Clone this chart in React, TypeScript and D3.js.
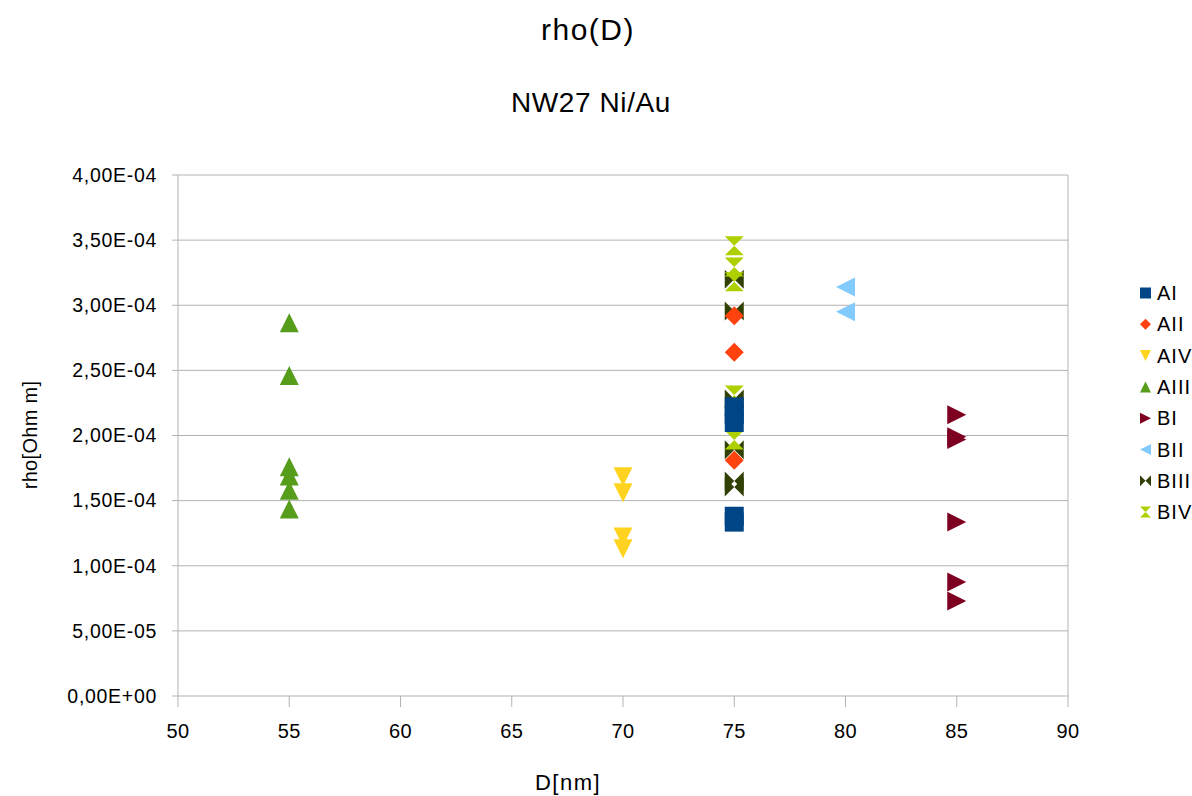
import React from "react";
import * as d3 from "d3";

// values (x = D[nm], y = rho[Ohm m])
const seriesNames = ["AI", "AII", "AIV", "AIII", "BI", "BII", "BIII", "BIV"];
const seriesColors = ["#004586", "#ff420e", "#ffd320", "#579d1c", "#7e0021", "#83caff", "#314004", "#aecf00"];
const seriesShapes = ["square", "diamond", "down", "up", "right", "left", "bowtie", "hourglass"];

const aI = [[75, 2.22e-4], [75, 2.16e-4], [75, 2.1e-4], [75, 1.38e-4], [75, 1.335e-4]];
const aII = [[75, 2.92e-4], [75, 2.64e-4], [75, 1.81e-4]];
const aIV = [[70, 1.684e-4], [70, 1.56e-4], [70, 1.22e-4], [70, 1.13e-4]];
const aIII = [[55, 2.865e-4], [55, 2.46e-4], [55, 1.76e-4], [55, 1.69e-4], [55, 1.58e-4], [55, 1.435e-4]];
const bI = [[85, 2.16e-4], [85, 1.99e-4], [85, 1.97e-4], [85, 1.335e-4], [85, 0.875e-4], [85, 0.73e-4]];
const bII = [[80, 3.14e-4], [80, 2.95e-4]];
const bIII = [[75, 3.2e-4], [75, 2.956e-4], [75, 2.28e-4], [75, 1.89e-4], [75, 1.65e-4], [75, 1.605e-4]];
const bIV = [[75, 3.457e-4], [75, 3.294e-4], [75, 3.18e-4], [75, 2.31e-4], [75, 1.965e-4]];

const seriesData = [aI, aII, aIV, aIII, bI, bII, bIII, bIV];
const drawOrder = [6, 7, 0, 1, 2, 3, 4, 5];

const xTicks = [50, 55, 60, 65, 70, 75, 80, 85, 90];
const yTicks = [0, 5e-5, 1e-4, 1.5e-4, 2e-4, 2.5e-4, 3e-4, 3.5e-4, 4e-4];

const W = 1192;
const H = 796;
const plot = { left: 178, right: 1068, top: 175, bottom: 696 };
const font = "'Liberation Sans', Arial, sans-serif";
const grid = "#b3b3b3";

const fmtSci = (v: number) => {
  const [m, e] = v.toExponential(2).split("e");
  const sign = e[0] === "-" ? "-" : "+";
  const digits = e.replace(/[+-]/, "").padStart(2, "0");
  return `${m.replace(".", ",")}E${sign}${digits}`;
};

const markerPath = (shape: string, s: number) => {
  const h = s / 2;
  switch (shape) {
    case "square":
      return `M${-h},${-h}H${h}V${h}H${-h}Z`;
    case "diamond":
      return `M0,${-h}L${h},0L0,${h}L${-h},0Z`;
    case "down":
      return `M${-h},${-h}H${h}L0,${h}Z`;
    case "up":
      return `M0,${-h}L${h},${h}H${-h}Z`;
    case "right":
      return `M${-h},${-h}L${h},0L${-h},${h}Z`;
    case "left":
      return `M${h},${-h}L${-h},0L${h},${h}Z`;
    case "bowtie":
      return `M${-h},${-h}L0,0L${-h},${h}Z M${h},${-h}L0,0L${h},${h}Z`;
    case "hourglass":
      return `M${-h},${-h}H${h}L0,0Z M${-h},${h}H${h}L0,0Z`;
    default:
      return "";
  }
};

export default function App() {
  const x = d3.scaleLinear().domain([50, 90]).range([plot.left, plot.right]);
  const y = d3.scaleLinear().domain([0, 4e-4]).range([plot.bottom, plot.top]);

  return (
    <svg width={W} height={H} style={{ position: "absolute", left: 0, top: 0, background: "#fff" }} fontFamily={font}>
      <rect width={W} height={H} fill="#fff" />
      <text x={588} y={40} textAnchor="middle" fontSize={30} letterSpacing={1.5} fill="#000">rho(D)</text>
      <text x={591} y={112} textAnchor="middle" fontSize={28} letterSpacing={0.6} fill="#000">NW27 Ni/Au</text>

      {/* grid + y axis */}
      {yTicks.map((t) => (
        <g key={`y${t}`}>
          <line x1={plot.left - 6} x2={plot.right} y1={y(t)} y2={y(t)} stroke={grid} strokeWidth={1} />
          <text x={157} y={y(t)} dy="0.35em" textAnchor="end" fontSize={19.5} letterSpacing={0.7} fill="#000">
            {fmtSci(t)}
          </text>
        </g>
      ))}
      <line x1={plot.left} x2={plot.left} y1={plot.top} y2={plot.bottom} stroke={grid} />
      <line x1={plot.right} x2={plot.right} y1={plot.top} y2={plot.bottom} stroke={grid} />

      {/* x axis */}
      {xTicks.map((t) => (
        <g key={`x${t}`}>
          <line x1={x(t)} x2={x(t)} y1={plot.bottom} y2={plot.bottom + 11} stroke={grid} />
          <text x={x(t)} y={738} textAnchor="middle" fontSize={20} letterSpacing={0.5} fill="#000">{t}</text>
        </g>
      ))}

      <text x={568} y={790} textAnchor="middle" fontSize={22} letterSpacing={1.5} fill="#000">D[nm]</text>
      <text transform={`translate(37,435) rotate(-90)`} textAnchor="middle" fontSize={20} letterSpacing={0.3} fill="#000">rho[Ohm m]</text>

      {/* points */}
      {drawOrder.map((si) => (
        <g key={seriesNames[si]} fill={seriesColors[si]}>
          {seriesData[si].map(([dx, dy], i) => (
            <path key={i} transform={`translate(${x(dx)},${y(dy)})`} d={markerPath(seriesShapes[si], 19)} />
          ))}
        </g>
      ))}

      {/* legend */}
      {seriesNames.map((n, i) => {
        const ly = 293 + i * 31.3;
        return (
          <g key={`lg${n}`}>
            <path transform={`translate(1145.5,${ly})`} d={markerPath(seriesShapes[i], 11)} fill={seriesColors[i]} />
            <text x={1157} y={ly} dy="0.35em" fontSize={20} letterSpacing={1} fill="#000">{n}</text>
          </g>
        );
      })}
    </svg>
  );
}
